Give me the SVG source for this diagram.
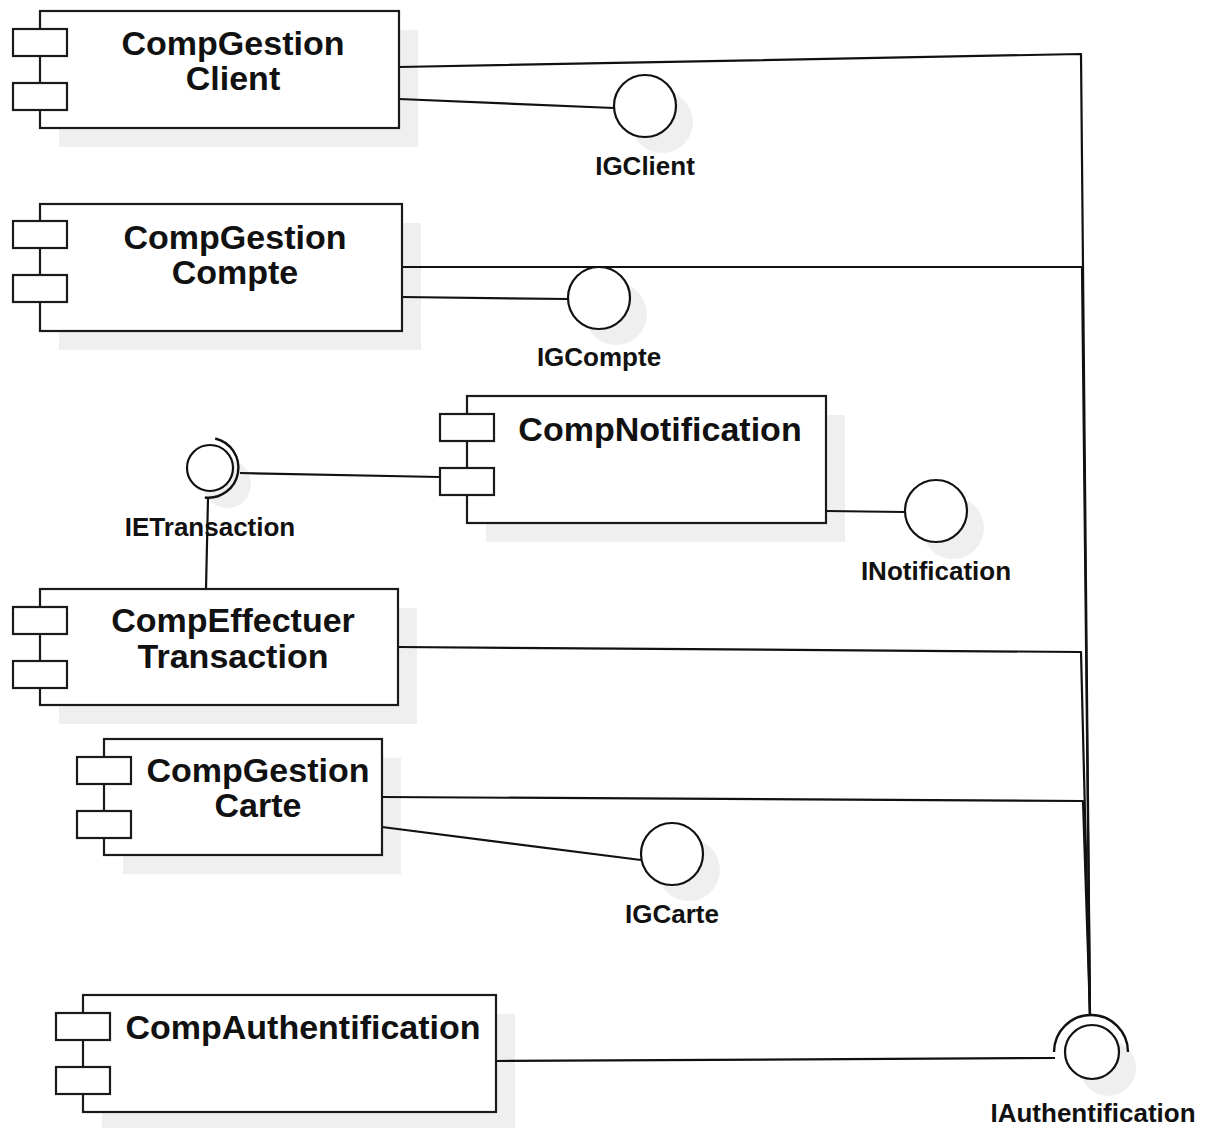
<svg xmlns="http://www.w3.org/2000/svg" width="1207" height="1128" viewBox="0 0 1207 1128">
  <style>
    .body { fill: #ffffff; stroke: #1a1a1a; stroke-width: 2.2; }
    .port { fill: #ffffff; stroke: #1a1a1a; stroke-width: 2.2; }
    .shadow { fill: #efefef; stroke: none; }
    .iface { fill: #ffffff; stroke: #111111; stroke-width: 2.2; }
    .socket { fill: none; stroke: #111111; stroke-width: 2.4; }
    .wire { fill: none; stroke: #111111; stroke-width: 2.2; stroke-linejoin: round; }
    .title { font-family: "Liberation Sans", Arial, sans-serif; font-weight: bold; font-size: 34px; fill: #111111; text-anchor: middle; }
    .label { font-family: "Liberation Sans", Arial, sans-serif; font-weight: bold; font-size: 26px; fill: #111111; text-anchor: middle; }
  </style>

  <rect width="1207" height="1128" fill="#ffffff"/>

  <!-- drop shadows behind component bodies and interface circles -->
  <g id="shadows">
    <rect class="shadow" x="59" y="30" width="359" height="117"/>
    <rect class="shadow" x="59" y="223" width="362" height="127"/>
    <rect class="shadow" x="486" y="415" width="359" height="127"/>
    <rect class="shadow" x="59" y="608" width="358" height="116"/>
    <rect class="shadow" x="123" y="758" width="278" height="116"/>
    <rect class="shadow" x="102" y="1014" width="413" height="114"/>
    <circle class="shadow" cx="662" cy="122" r="31"/>
    <circle class="shadow" cx="616" cy="314" r="31"/>
    <circle class="shadow" cx="227" cy="484" r="24"/>
    <circle class="shadow" cx="953" cy="528" r="31"/>
    <circle class="shadow" cx="689" cy="870" r="31"/>
    <circle class="shadow" cx="1108" cy="1068" r="28"/>
  </g>

  <!-- connectors -->
  <g id="connectors">
    <polyline class="wire" points="399,67 1081,54 1090,1015"/>
    <polyline class="wire" points="402,267 1082,267 1090,1015"/>
    <polyline class="wire" points="398,647 1081,652 1090,1015"/>
    <polyline class="wire" points="382,797 1083,801 1090,1015"/>
    <line class="wire" x1="496" y1="1061" x2="1055" y2="1058"/>
    <line class="wire" x1="399" y1="99" x2="614" y2="108"/>
    <line class="wire" x1="402" y1="297" x2="568" y2="299"/>
    <line class="wire" x1="826" y1="511" x2="904" y2="512"/>
    <line class="wire" x1="382" y1="827" x2="641" y2="860"/>
    <line class="wire" x1="240" y1="473" x2="440" y2="477"/>
    <line class="wire" x1="208" y1="498" x2="206" y2="589"/>
  </g>

  <!-- components -->
  <g id="comp-gestion-client">
    <rect class="body" x="40" y="11" width="359" height="117"/>
    <rect class="port" x="13" y="29" width="54" height="27"/>
    <rect class="port" x="13" y="83" width="54" height="27"/>
    <text class="title" x="233" y="55">CompGestion</text>
    <text class="title" x="233" y="90">Client</text>
  </g>

  <g id="comp-gestion-compte">
    <rect class="body" x="40" y="204" width="362" height="127"/>
    <rect class="port" x="13" y="221" width="54" height="27"/>
    <rect class="port" x="13" y="275" width="54" height="27"/>
    <text class="title" x="235" y="249">CompGestion</text>
    <text class="title" x="235" y="284">Compte</text>
  </g>

  <g id="comp-notification">
    <rect class="body" x="467" y="396" width="359" height="127"/>
    <rect class="port" x="440" y="414" width="54" height="27"/>
    <rect class="port" x="440" y="468" width="54" height="27"/>
    <text class="title" x="660" y="441">CompNotification</text>
  </g>

  <g id="comp-effectuer-transaction">
    <rect class="body" x="40" y="589" width="358" height="116"/>
    <rect class="port" x="13" y="607" width="54" height="27"/>
    <rect class="port" x="13" y="661" width="54" height="27"/>
    <text class="title" x="233" y="632">CompEffectuer</text>
    <text class="title" x="233" y="668">Transaction</text>
  </g>

  <g id="comp-gestion-carte">
    <rect class="body" x="104" y="739" width="278" height="116"/>
    <rect class="port" x="77" y="757" width="54" height="27"/>
    <rect class="port" x="77" y="811" width="54" height="27"/>
    <text class="title" x="258" y="782">CompGestion</text>
    <text class="title" x="258" y="817">Carte</text>
  </g>

  <g id="comp-authentification">
    <rect class="body" x="83" y="995" width="413" height="117"/>
    <rect class="port" x="56" y="1013" width="54" height="27"/>
    <rect class="port" x="56" y="1067" width="54" height="27"/>
    <text class="title" x="303" y="1039">CompAuthentification</text>
  </g>

  <!-- interfaces -->
  <g id="i-gclient">
    <circle class="iface" cx="645" cy="106" r="31"/>
    <text class="label" x="645" y="175">IGClient</text>
  </g>

  <g id="i-gcompte">
    <circle class="iface" cx="599" cy="298" r="31"/>
    <text class="label" x="599" y="366">IGCompte</text>
  </g>

  <g id="i-etransaction">
    <circle class="iface" cx="210" cy="468" r="23"/>
    <path class="socket" d="M 215.2 438.5 A 30 30 0 0 1 204.8 497.5"/>
    <text class="label" x="210" y="536">IETransaction</text>
  </g>

  <g id="i-notification">
    <circle class="iface" cx="936" cy="511" r="31"/>
    <text class="label" x="936" y="580">INotification</text>
  </g>

  <g id="i-gcarte">
    <circle class="iface" cx="672" cy="854" r="31"/>
    <text class="label" x="672" y="923">IGCarte</text>
  </g>

  <g id="i-authentification">
    <circle class="iface" cx="1092" cy="1052" r="27"/>
    <path class="socket" d="M 1054 1052 A 37 37 0 0 1 1128 1052"/>
    <text class="label" x="1093" y="1122">IAuthentification</text>
  </g>
</svg>
